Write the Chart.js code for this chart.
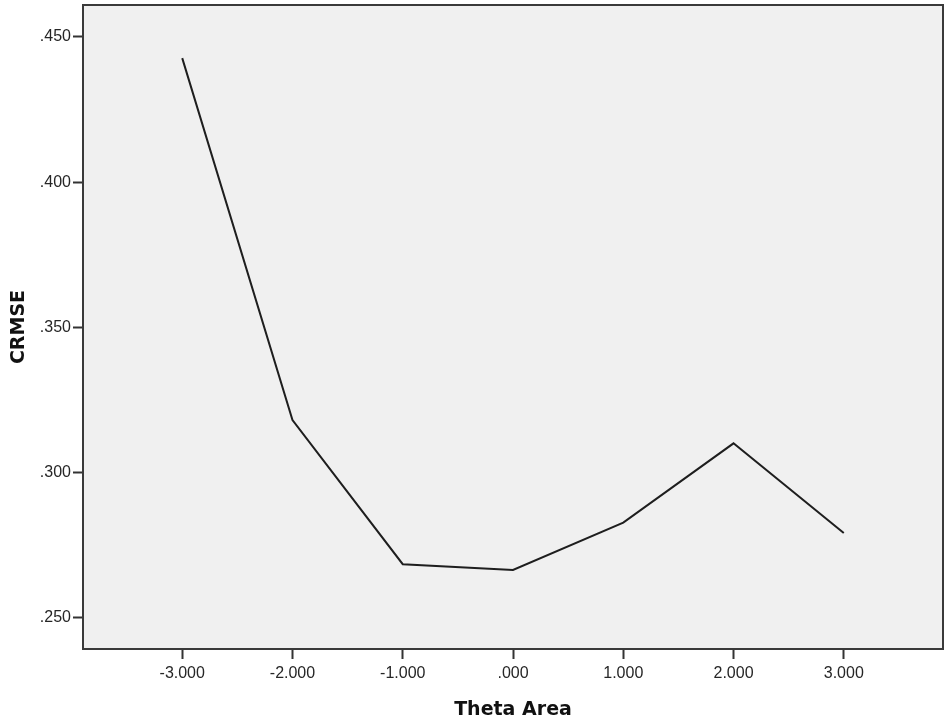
<!DOCTYPE html>
<html>
<head>
<meta charset="utf-8">
<script src="https://cdn.jsdelivr.net/npm/chart.js@4/dist/chart.umd.min.js"></script>
<style>
  html, body { margin: 0; padding: 0; background: #ffffff; }
  #wrap { width: 950px; height: 722px; }
</style>
</head>
<body>
<div id="wrap"><canvas id="chart" width="950" height="722"></canvas></div>
<script>
    // values
    const thetaArea = [-3, -2, -1, 0, 1, 2, 3];
    const crmse = [0.4427, 0.3181, 0.2685, 0.2665, 0.2828, 0.3101, 0.2792];
    const xTicks = [-3, -2, -1, 0, 1, 2, 3];
    const yTicks = [0.25, 0.30, 0.35, 0.40, 0.45];

    // SPSS style numbers: 3 decimals, no leading zero
    function fmt(v) {
        return v.toFixed(3).replace(/^(-?)0\./, '$1.');
    }

    // grey plot background + frame
    const frame = {
        id: 'frame',
        beforeDraw(chart) {
            const a = chart.chartArea;
            const ctx = chart.ctx;
            ctx.save();
            ctx.fillStyle = '#f0f0f0';
            ctx.fillRect(a.left, a.top, a.right - a.left, a.bottom - a.top);
            ctx.restore();
        },
        afterDraw(chart) {
            const a = chart.chartArea;
            const ctx = chart.ctx;
            ctx.save();
            ctx.strokeStyle = '#3a3a3a';
            ctx.lineWidth = 2;
            ctx.strokeRect(a.left, a.top, a.right - a.left, a.bottom - a.top);
            ctx.restore();
        }
    };

    const points = thetaArea.map((x, i) => ({ x: x, y: crmse[i] }));

    const chart = new Chart(document.getElementById('chart'), {
        type: 'scatter',
        data: {
            datasets: [{
                label: 'CRMSE',
                data: points,
                showLine: true,
                borderColor: '#1e1e1e',
                borderWidth: 2,
                pointRadius: 0,
                pointHoverRadius: 0,
                tension: 0
            }]
        },
        options: {
            responsive: false,
            animation: false,
            layout: { padding: { left: 0, top: 5, right: 7, bottom: 0 } },
            plugins: {
                legend: { display: false },
                tooltip: { enabled: false }
            },
            scales: {
                x: {
                    type: 'linear',
                    min: -3.9,
                    max: 3.9,
                    afterBuildTicks: (s) => { s.ticks = xTicks.map(v => ({ value: v })); },
                    afterFit: (s) => { s.height = 73; s.paddingLeft = 0; s.paddingRight = 0; },
                    border: { display: false },
                    grid: {
                        drawOnChartArea: false,
                        drawTicks: true,
                        tickLength: 10,
                        tickWidth: 2,
                        tickColor: '#333333'
                    },
                    ticks: {
                        padding: 5,
                        maxRotation: 0,
                        color: '#262626',
                        font: { family: 'Liberation Sans', size: 16 },
                        callback: (v) => fmt(v)
                    },
                    title: {
                        display: true,
                        text: 'Theta Area',
                        color: '#111111',
                        font: { family: 'DejaVu Sans', size: 19, weight: 'bold' },
                        padding: { top: 0, bottom: 1 }
                    }
                },
                y: {
                    type: 'linear',
                    min: 0.2393,
                    max: 0.461,
                    afterBuildTicks: (s) => { s.ticks = yTicks.map(v => ({ value: v })); },
                    afterFit: (s) => { s.width = 83; s.paddingTop = 0; s.paddingBottom = 0; },
                    border: { display: false },
                    grid: {
                        drawOnChartArea: false,
                        drawTicks: true,
                        tickLength: 10,
                        tickWidth: 2,
                        tickColor: '#333333'
                    },
                    ticks: {
                        padding: 2,
                        color: '#262626',
                        font: { family: 'Liberation Sans', size: 16 },
                        callback: (v) => fmt(v)
                    },
                    title: {
                        display: true,
                        text: 'CRMSE',
                        color: '#111111',
                        font: { family: 'DejaVu Sans', size: 19, weight: 'bold' },
                        padding: { top: 8, bottom: 0 }
                    }
                }
            }
        },
        plugins: [frame]
    });
</script>
</body>
</html>
